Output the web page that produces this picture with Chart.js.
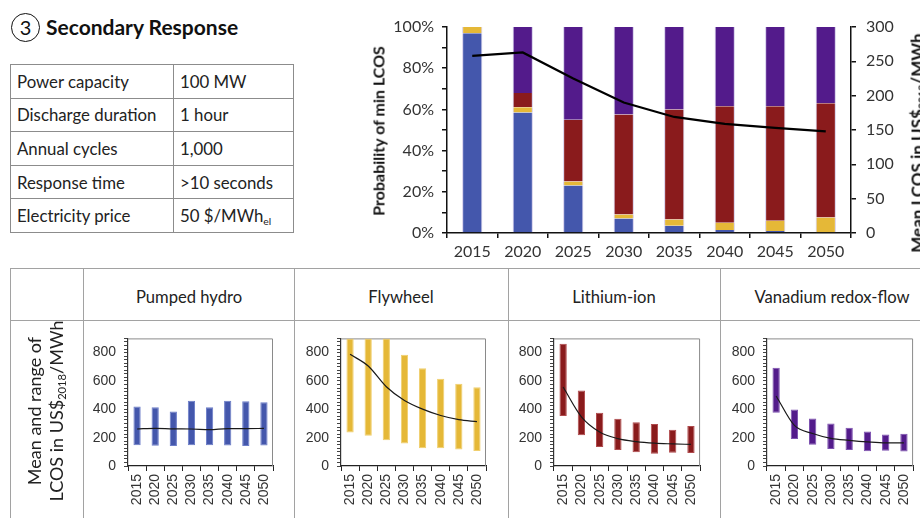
<!DOCTYPE html>
<html>
<head>
<meta charset="utf-8">
<script src="https://cdn.jsdelivr.net/npm/chart.js@4/dist/chart.umd.min.js"></script>
<style>
  html, body { margin: 0; padding: 0; background: #fff; }
  body { width: 920px; height: 518px; position: relative; overflow: hidden;
         font-family: Lato, "Open Sans", sans-serif; color: #222; }
  .abs { position: absolute; }
  .circ { left: 11px; top: 13px; width: 27px; height: 27px; border: 1.6px solid #111; border-radius: 50%;
          font-size: 20px; line-height: 27px; text-align: center; color: #111; }
  .title { left: 46px; top: 13px; font-size: 21px; font-weight: 700; color: #111; line-height: 28px; }
  table.spec { position: absolute; left: 10px; top: 64px; border-collapse: collapse; font-size: 16.8px; color: #222; }
  table.spec td { border: 1px solid #8c8c8c; height: 33.6px; padding: 0 0 0 6px; box-sizing: border-box; }
  table.spec td.k { width: 163px; }
  table.spec td.v { width: 120px; }
  sub { font-size: 62%; vertical-align: -0.25em; line-height: 0; }
  .rot { transform: translate(-50%, -50%) rotate(-90deg); white-space: nowrap; }
  .axt { font-size: 16px; font-weight: 700; color: #111; }
  .hline { height: 1px; background: #a2a2a2; }
  .vline { width: 1px; background: #a2a2a2; }
  .hdr { font-size: 16.6px; color: #222; transform: translate(-50%, -50%); white-space: nowrap; }
  .side { font-size: 18px; color: #222; text-align: center; line-height: 22px; }
  canvas { position: absolute; }
</style>
</head>
<body>

<div class="abs circ">3</div>
<div class="abs title">Secondary Response</div>

<table class="spec">
  <tr><td class="k">Power capacity</td><td class="v">100 MW</td></tr>
  <tr><td class="k">Discharge duration</td><td class="v">1 hour</td></tr>
  <tr><td class="k">Annual cycles</td><td class="v">1,000</td></tr>
  <tr><td class="k">Response time</td><td class="v">&gt;10 seconds</td></tr>
  <tr><td class="k">Electricity price</td><td class="v">50 $/MWh<sub>el</sub></td></tr>
</table>

<canvas id="mix" width="560" height="270" style="left:360px;top:0px;"></canvas>
<div class="abs rot axt" style="left:378px;top:131px;">Probability of min LCOS</div>
<div class="abs rot axt" style="left:917px;top:143px;font-size:17px;">Mean LCOS in US$<sub>2018</sub>/MWh</div>

<!-- technology panel grid -->
<div class="abs hline" style="left:10px;top:268px;width:910px;"></div>
<div class="abs hline" style="left:10px;top:320px;width:910px;"></div>
<div class="abs vline" style="left:10px;top:268px;height:250px;"></div>
<div class="abs vline" style="left:83px;top:268px;height:250px;"></div>
<div class="abs vline" style="left:294px;top:268px;height:250px;"></div>
<div class="abs vline" style="left:508px;top:268px;height:250px;"></div>
<div class="abs vline" style="left:720px;top:268px;height:250px;"></div>

<div class="abs hdr" style="left:189px;top:297px;">Pumped hydro</div>
<div class="abs hdr" style="left:401px;top:297px;">Flywheel</div>
<div class="abs hdr" style="left:614px;top:297px;">Lithium-ion</div>
<div class="abs hdr" style="left:832px;top:297px;">Vanadium redox-flow</div>

<div class="abs rot side" style="left:45px;top:411px;">Mean and range of<br>LCOS in US$<sub>2018</sub>/MWh</div>

<canvas id="ph" width="200" height="196"></canvas>
<canvas id="fw" width="200" height="196"></canvas>
<canvas id="li" width="200" height="196"></canvas>
<canvas id="vr" width="200" height="196"></canvas>

<script>
// ---- data ----
const years = ['2015', '2020', '2025', '2030', '2035', '2040', '2045', '2050'];

// probability (%) that each technology has the minimum LCOS
const probPumpedHydro = [97, 58.5, 23, 7, 3.5, 1.5, 1, 0];
const probFlywheel    = [3, 2.5, 2, 2, 3, 3.5, 5, 7.5];
const probLithiumIon  = [0, 7, 30, 48.5, 53.5, 56.5, 55.5, 55.5];
const probVanadium    = [0, 32, 45, 42.5, 40, 38.5, 38.5, 37];

// mean of the minimum LCOS (US$2018/MWh)
const meanMinLcos = [258, 263, 225, 190, 169, 159, 153, 148];

const percentTicks = [0, 20, 40, 60, 80, 100];
const lcosTicks = [0, 200, 400, 600, 800];

// LCOS range (low / high) and mean per technology, US$2018/MWh
const phLow  = [147, 143, 141, 147, 147, 145, 141, 145];
const phHigh = [419, 415, 385, 460, 415, 460, 456, 449];
const phMean = [261, 266, 262, 261, 256, 264, 264, 265];

const fwLow  = [236, 214, 182, 158, 126, 126, 117, 106];
const fwHigh = [900, 900, 900, 784, 689, 615, 581, 556];
const fwMean = [788, 705, 559, 462, 401, 356, 327, 313];

const liLow  = [353, 217, 134, 113, 97, 86, 93, 91];
const liHigh = [863, 532, 376, 333, 308, 297, 256, 283];
const liMean = [557, 347, 240, 193, 172, 161, 156, 152];

const vrLow  = [376, 190, 150, 120, 113, 104, 107, 102];
const vrHigh = [693, 399, 335, 299, 270, 243, 222, 227];
const vrMean = [494, 286, 229, 195, 181, 170, 163, 163];

// ---- colours ----
const C = {
  hydro:    '#4457ac',
  flywheel: '#e5b837',
  lithium:  '#8a1b1c',
  vanadium: '#531b8b'
};
const EDGE = {
  hydro:    '#6a7cc8',
  flywheel: '#f0cf6e',
  lithium:  '#b04a4c',
  vanadium: '#7d52b0'
};

const tickColor = '#333';
const sideEdge = { left: 1, right: 1, top: 0, bottom: 0 };

// ---- probability chart with mean LCOS ----
function barSet(data, col) {
  return { type: 'bar', data, backgroundColor: col, borderColor: 'rgba(196,186,228,0.8)',
           borderWidth: sideEdge, borderSkipped: false, barPercentage: 0.4, categoryPercentage: 1,
           yAxisID: 'y', order: 1 };
}

new Chart(document.getElementById('mix'), {
  type: 'bar',
  data: {
    labels: years,
    datasets: [
      { type: 'line', data: meanMinLcos, yAxisID: 'y1', borderColor: '#000', borderWidth: 2.2,
        pointRadius: 0, tension: 0, order: 0 },
      barSet(probPumpedHydro, C.hydro),
      barSet(probFlywheel, C.flywheel),
      barSet(probLithiumIon, C.lithium),
      barSet(probVanadium, C.vanadium)
    ]
  },
  options: {
    responsive: false, animation: false, events: [],
    layout: { padding: { top: 27, right: 0, left: 0, bottom: 0 } },
    plugins: { legend: { display: false }, tooltip: { enabled: false } },
    scales: {
      x: {
        stacked: true,
        grid: { offset: true, drawOnChartArea: false, tickLength: 5, color: '#111', lineWidth: 1.5 },
        border: { color: '#111', width: 1.5 },
        ticks: { font: { family: 'Lato', size: 16 }, color: tickColor, padding: 4, maxRotation: 0, autoSkip: false },
        afterFit(s) { s.height = 37; }
      },
      y: {
        stacked: true, position: 'left', min: 0, max: 100,
        grid: { drawOnChartArea: false, tickLength: 5, color: '#111', lineWidth: 1.5 },
        border: { color: '#111', width: 1.5 },
        ticks: { stepSize: 10, autoSkip: false, padding: 8, color: tickColor,
                 font: { family: 'Lato', size: 16 },
                 callback: v => percentTicks.includes(v) ? v + '%' : '' },
        afterFit(s) { s.width = 87; }
      },
      y1: {
        position: 'right', min: 0, max: 300,
        grid: { drawOnChartArea: false, tickLength: 5, color: '#111', lineWidth: 1.5 },
        border: { color: '#111', width: 1.5 },
        ticks: { stepSize: 50, autoSkip: false, padding: 10, color: tickColor,
                 font: { family: 'Lato', size: 16 } },
        afterFit(s) { s.width = 69; }
      }
    }
  }
});

// ---- LCOS range charts ----
// grey frame on the top and right of each plot
const framePlugin = {
  id: 'frame',
  beforeDatasetsDraw(chart) {
    const { ctx, chartArea: a } = chart;
    ctx.save();
    ctx.strokeStyle = '#8a8a8a';
    ctx.lineWidth = 1;
    ctx.beginPath();
    ctx.moveTo(a.left, a.top + 0.5);
    ctx.lineTo(a.right - 0.5, a.top + 0.5);
    ctx.lineTo(a.right - 0.5, a.bottom);
    ctx.stroke();
    ctx.restore();
  }
};

function rangeChart(id, plot, low, high, mean, col, edge) {
  const cv = document.getElementById(id);
  const padTop = 12, yWidth = 44, padRight = 4, bottom = 518;
  const top = plot.t - padTop;
  cv.width = plot.r - plot.l + yWidth + padRight;
  cv.height = bottom - top;
  cv.style.left = (plot.l - yWidth) + 'px';
  cv.style.top = top + 'px';
  const smallFont = { family: 'Liberation Sans', size: 14 };
  new Chart(cv, {
    type: 'bar',
    data: {
      labels: years,
      datasets: [
        { type: 'line', data: mean, borderColor: '#1a1a1a', borderWidth: 1.2, pointRadius: 0,
          cubicInterpolationMode: 'monotone', order: 0 },
        { type: 'bar', data: low.map((v, i) => [v, high[i]]), backgroundColor: col, borderColor: edge,
          borderWidth: 1, borderSkipped: false, barPercentage: 0.4, categoryPercentage: 1, order: 1 }
      ]
    },
    options: {
      responsive: false, animation: false, events: [],
      layout: { padding: { top: padTop, right: padRight, left: 0, bottom: 0 } },
      plugins: { legend: { display: false }, tooltip: { enabled: false } },
      scales: {
        x: {
          grid: { offset: true, drawOnChartArea: false, tickLength: 5, color: '#222', lineWidth: 1 },
          border: { color: '#222', width: 1.2 },
          ticks: { maxRotation: 90, minRotation: 90, autoSkip: false, padding: 3, color: tickColor, font: smallFont },
          afterFit(s) { s.height = bottom - plot.b; }
        },
        y: {
          min: 0, max: 900,
          grid: { drawOnChartArea: false, tickLength: 4, color: '#444', lineWidth: 1 },
          border: { color: '#333', width: 1.2 },
          ticks: { stepSize: 25, autoSkip: false, padding: 8, color: tickColor, font: smallFont,
                   callback: v => lcosTicks.includes(v) ? String(v) : '' },
          afterFit(s) { s.width = yWidth; }
        }
      }
    },
    plugins: [framePlugin]
  });
}

rangeChart('ph', { l: 128, r: 280, t: 334, b: 466 }, phLow, phHigh, phMean, C.hydro, EDGE.hydro);
rangeChart('fw', { l: 341, r: 493, t: 334, b: 466 }, fwLow, fwHigh, fwMean, C.flywheel, EDGE.flywheel);
rangeChart('li', { l: 554, r: 707, t: 334, b: 466 }, liLow, liHigh, liMean, C.lithium, EDGE.lithium);
rangeChart('vr', { l: 767, r: 920, t: 334, b: 466 }, vrLow, vrHigh, vrMean, C.vanadium, EDGE.vanadium);
</script>
</body>
</html>
